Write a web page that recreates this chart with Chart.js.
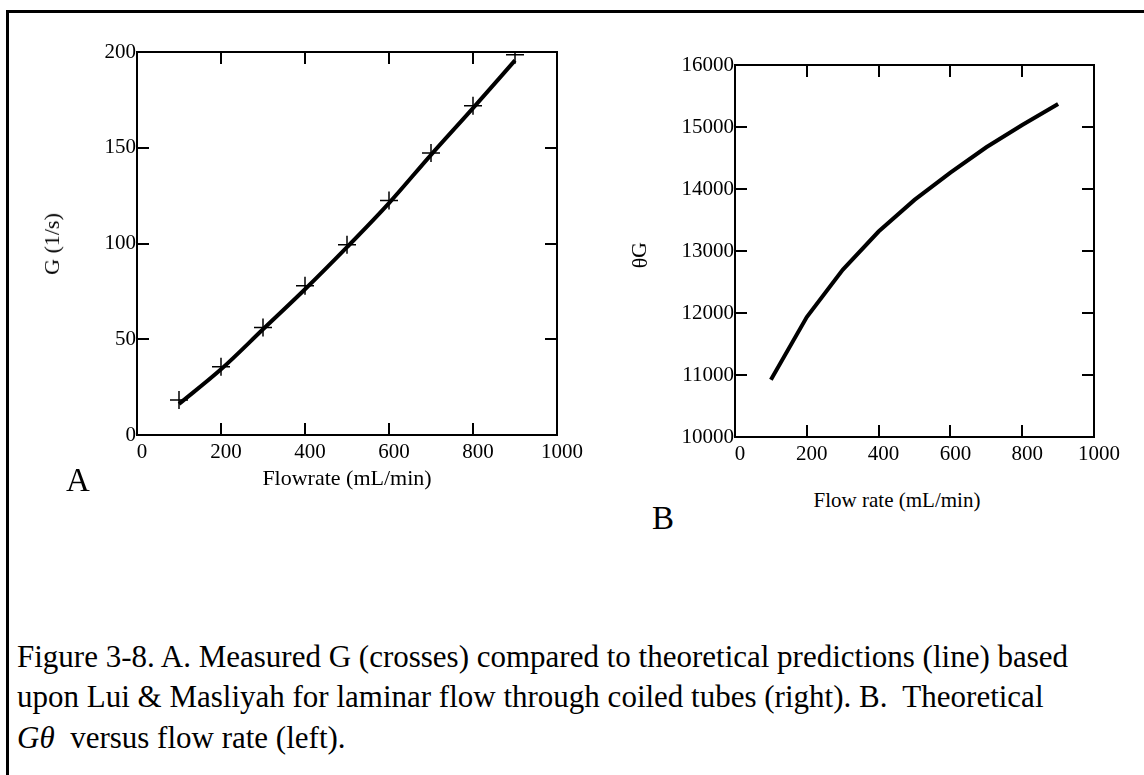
<!DOCTYPE html>
<html>
<head>
<meta charset="utf-8">
<script src="https://cdn.jsdelivr.net/npm/chart.js@4.4.1/dist/chart.umd.min.js"></script>
<style>
  html, body { margin: 0; padding: 0; background: #fff; }
  body { width: 1144px; height: 775px; position: relative; overflow: hidden; font-family: "Liberation Serif", "Times New Roman", serif; color: #000; }
  .frame { position: absolute; left: 6px; top: 10px; width: 1200px; height: 800px; border-left: 3px solid #000; border-top: 3px solid #000; }
  canvas { position: absolute; top: 0; }
  #chartA { left: 0; }
  #chartB { left: 600px; }
  .lbl { position: absolute; white-space: nowrap; line-height: 1; }
  .axt { font-size: 22px; transform: translate(-50%, -50%); }
  .panel { font-size: 33px; }
  .rot { transform: translate(-50%, -50%) rotate(-90deg); }
  .caption { position: absolute; left: 17px; font-size: 31px; white-space: nowrap; line-height: 1; }
</style>
</head>
<body>
<div class="frame"></div>
<canvas id="chartA" width="600" height="480"></canvas>
<canvas id="chartB" width="544" height="480"></canvas>

<div class="lbl axt rot" style="left:52px; top:244px;">G (1/s)</div>
<div class="lbl axt" style="left:347px; top:478px;">Flowrate (mL/min)</div>
<div class="lbl panel" style="left:66px; top:464px;">A</div>

<div class="lbl axt rot" style="left:639px; top:250px;">G</div>
<div class="lbl axt rot" style="left:640px; top:263px;">θ</div>
<div class="lbl axt" style="left:897px; top:500px; font-size:21px;">Flow rate (mL/min)</div>
<div class="lbl panel" style="left:652px; top:502px;">B</div>

<div class="caption" style="top:641px;">Figure 3-8. A. Measured G (crosses) compared to theoretical predictions (line) based</div>
<div class="caption" style="top:681px;">upon Lui &amp; Masliyah for laminar flow through coiled tubes (right). B.&nbsp; Theoretical</div>
<div class="caption" style="top:722px;"><i>Gθ</i>&nbsp; versus flow rate (left).</div>

<script>
// flow rate (mL/min)
const flowRates = [100, 200, 300, 400, 500, 600, 700, 800, 900];
// A: measured G (crosses) and theoretical G (line), 1/s
const gMeasured = [18.3, 35.7, 56.1, 77.9, 99.3, 122.5, 147.2, 171.9, 198.6];
const gTheory = [16.2, 34.3, 55.2, 76.1, 98.1, 121.1, 146.3, 170.7, 195.6];
// B: theoretical G*theta
const gTheta = [10924, 11934, 12697, 13314, 13824, 14265, 14673, 15033, 15371];

const xTicks = [0, 200, 400, 600, 800, 1000];
const yTicksA = [0, 50, 100, 150, 200];
const yTicksB = [10000, 11000, 12000, 13000, 14000, 15000, 16000];

const pts = (xs, ys) => xs.map((x, i) => ({ x: x, y: ys[i] }));
const tickFont = { family: 'Liberation Serif', size: 21 };

// box round the plot with ticks pointing inward on all four sides
const frameTicks = {
    id: 'frameTicks',
    beforeDatasetsDraw(chart) {
        const { ctx, chartArea: a, scales: { x, y } } = chart;
        const len = 12;
        ctx.save();
        ctx.strokeStyle = '#000';
        ctx.lineWidth = 2;
        ctx.strokeRect(a.left, a.top, a.right - a.left, a.bottom - a.top);
        ctx.beginPath();
        x.ticks.forEach(t => {
            const px = Math.round(x.getPixelForValue(t.value));
            ctx.moveTo(px, a.bottom); ctx.lineTo(px, a.bottom - len);
            ctx.moveTo(px, a.top); ctx.lineTo(px, a.top + len);
        });
        y.ticks.forEach(t => {
            const py = Math.round(y.getPixelForValue(t.value));
            ctx.moveTo(a.left, py); ctx.lineTo(a.left + len, py);
            ctx.moveTo(a.right, py); ctx.lineTo(a.right - len, py);
        });
        ctx.stroke();
        ctx.restore();
    }
};

function makeScales(yMin, yMax, yTicks, yWidth, xHeight) {
    return {
        x: {
            type: 'linear', min: 0, max: 1000,
            afterBuildTicks: s => { s.ticks = xTicks.map(v => ({ value: v })); },
            afterFit: s => { s.height = xHeight; },
            grid: { display: false, drawTicks: false },
            border: { display: false },
            ticks: { font: tickFont, color: '#000', padding: 5, labelOffset: 5, maxRotation: 0, callback: v => String(v) }
        },
        y: {
            type: 'linear', min: yMin, max: yMax,
            afterBuildTicks: s => { s.ticks = yTicks.map(v => ({ value: v })); },
            afterFit: s => { s.width = yWidth; },
            grid: { display: false, drawTicks: false },
            border: { display: false },
            ticks: { font: tickFont, color: '#000', padding: 1, callback: v => String(v) }
        }
    };
}

new Chart(document.getElementById('chartA'), {
    type: 'line',
    data: {
        datasets: [{
            label: 'Theory',
            data: pts(flowRates, gTheory),
            borderColor: '#000',
            borderWidth: 4,
            pointRadius: 0,
            tension: 0.4,
            cubicInterpolationMode: 'monotone',
            fill: false
        }, {
            label: 'Measured',
            data: pts(flowRates, gMeasured),
            showLine: false,
            pointStyle: 'cross',
            pointRadius: 9,
            borderColor: '#000',
            borderWidth: 1.5
        }]
    },
    options: {
        responsive: false,
        animation: false,
        layout: { padding: { left: 0, top: 52, right: 43, bottom: 0 } },
        plugins: { legend: { display: false }, tooltip: { enabled: false } },
        scales: makeScales(0, 200, yTicksA, 137, 45)
    },
    plugins: [frameTicks]
});

new Chart(document.getElementById('chartB'), {
    type: 'line',
    data: {
        datasets: [{
            label: 'G theta',
            data: pts(flowRates, gTheta),
            borderColor: '#000',
            borderWidth: 4,
            pointRadius: 0,
            tension: 0,
            fill: false
        }]
    },
    options: {
        responsive: false,
        animation: false,
        layout: { padding: { left: 0, top: 65, right: 50, bottom: 0 } },
        plugins: { legend: { display: false }, tooltip: { enabled: false } },
        scales: makeScales(10000, 16000, yTicksB, 135, 43)
    },
    plugins: [frameTicks]
});
</script>
</body>
</html>
